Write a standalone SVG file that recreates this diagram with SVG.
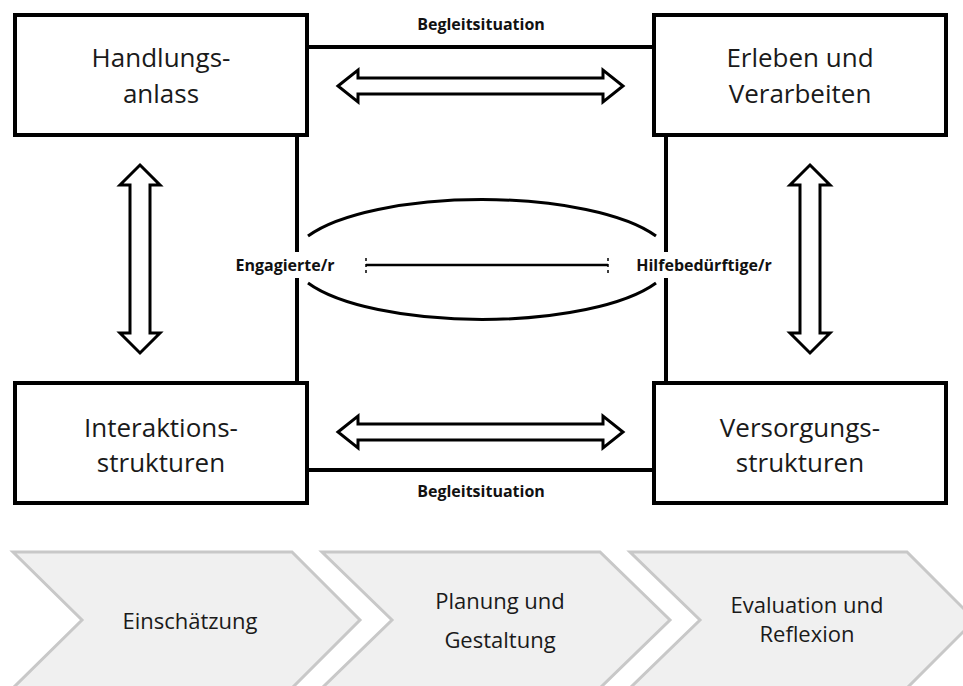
<svg xmlns="http://www.w3.org/2000/svg" width="963" height="686" viewBox="0 0 963 686">
<style>
.box{fill:#fff;stroke:#000;stroke-width:4}
.frame{fill:none;stroke:#000;stroke-width:4}
.arr{fill:#fff;stroke:#000;stroke-width:3;stroke-linejoin:miter}
.t{font-family:"Open Sans","Liberation Sans",sans-serif;font-size:26px;fill:#1a1a1a;text-anchor:middle}
.b{font-family:"Open Sans","Liberation Sans",sans-serif;font-size:16px;font-weight:bold;fill:#111;text-anchor:middle}
.chev{fill:#f0f0f0;stroke:#c8c8c8;stroke-width:3}
.ct{font-family:"Open Sans","Liberation Sans",sans-serif;font-size:22px;fill:#1a1a1a;text-anchor:middle}
</style>
<rect width="963" height="686" fill="#fff"/>
<g id="connectors">
<path class="frame" d="M307 47 H654 M307 470 H654 M297 135 V252 M297 278 V383 M666 135 V252 M666 278 V383"/>
<path class="arr" d="M338 86 L358 70 L358 78 L603 78 L603 70 L623 86 L603 102 L603 94 L358 94 L358 102 Z"/>
<path class="arr" d="M338 432 L358 416 L358 424 L603 424 L603 416 L623 432 L603 448 L603 440 L358 440 L358 448 Z"/>
<path class="arr" d="M140 165 L160 185 L150 185 L150 333 L160 333 L140 353 L120 333 L130 333 L130 185 L120 185 Z"/>
<path class="arr" d="M810 165 L830 185 L820 185 L820 333 L830 333 L810 353 L790 333 L800 333 L800 185 L790 185 Z"/>
<path fill="none" stroke="#000" stroke-width="3" d="M308 236 A190 61 0 0 1 656 236 M308 283 A190 61 0 0 0 656 283"/>
<path fill="none" stroke="#000" stroke-width="2.5" d="M366 265 H608"/>
<path fill="none" stroke="#000" stroke-width="1.5" stroke-dasharray="3 3" d="M366 258 V273 M608 258 V273"/>
<text class="b" x="481" y="30">Begleitsituation</text>
<text class="b" x="481" y="497">Begleitsituation</text>
<text class="b" x="285" y="271">Engagierte/r</text>
<text class="b" x="704" y="271">Hilfebedürftige/r</text>
</g>
<g id="handlungsanlass">
<rect class="box" x="15" y="15" width="292" height="120"/>
<text class="t" x="161" y="67">Handlungs-</text>
<text class="t" x="161" y="103">anlass</text>
</g>
<g id="erleben">
<rect class="box" x="654" y="15" width="292" height="120"/>
<text class="t" x="800" y="67">Erleben und</text>
<text class="t" x="800" y="103">Verarbeiten</text>
</g>
<g id="interaktion">
<rect class="box" x="15" y="383" width="292" height="120"/>
<text class="t" x="161" y="437">Interaktions-</text>
<text class="t" x="161" y="472">strukturen</text>
</g>
<g id="versorgung">
<rect class="box" x="654" y="383" width="292" height="120"/>
<text class="t" x="800" y="437">Versorgungs-</text>
<text class="t" x="800" y="472">strukturen</text>
</g>
<g id="einschaetzung">
<path class="chev" d="M13 552 H292 L360 620 L292 688 H13 L82 620 Z"/>
<text class="ct" x="190" y="629">Einschätzung</text>
</g>
<g id="planung">
<path class="chev" d="M322 552 H600 L670 620 L600 688 H322 L392 620 Z"/>
<text class="ct" x="500" y="609">Planung und</text>
<text class="ct" x="500" y="648">Gestaltung</text>
</g>
<g id="evaluation">
<path class="chev" d="M630 552 H907 L975 620 L907 688 H630 L700 620 Z"/>
<text class="ct" x="807" y="613">Evaluation und</text>
<text class="ct" x="807" y="642">Reflexion</text>
</g>
</svg>
